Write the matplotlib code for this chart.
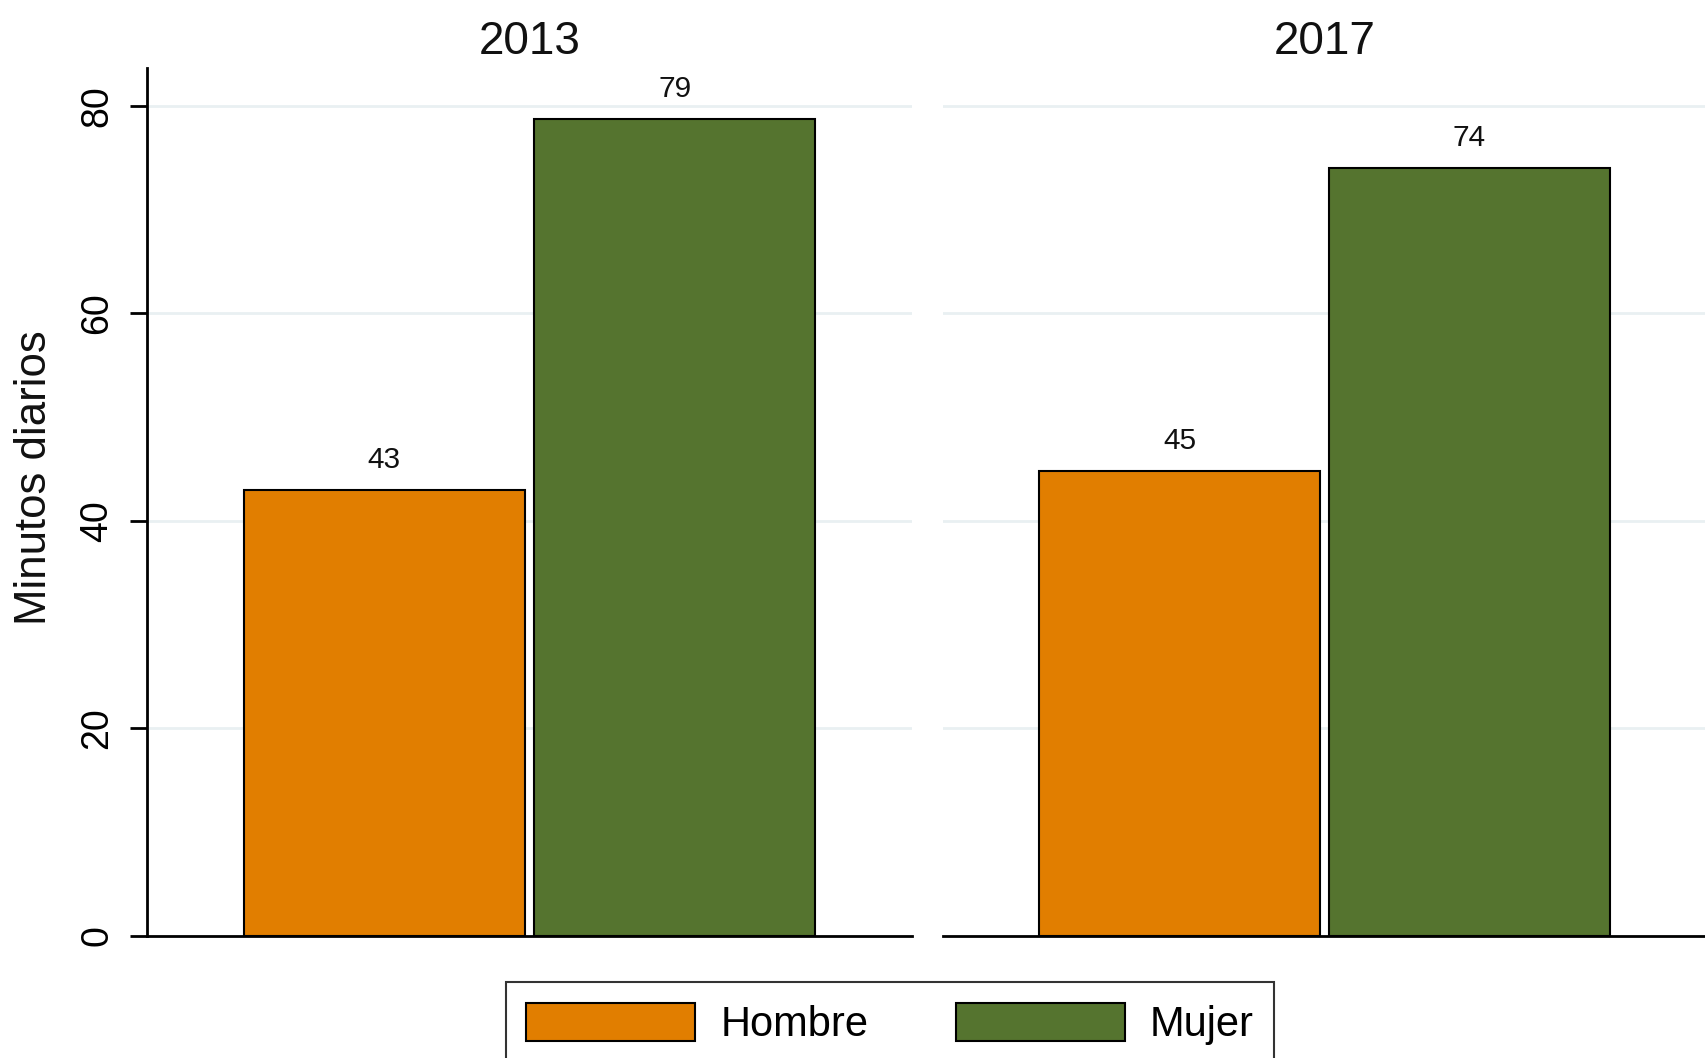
import matplotlib
matplotlib.use('Agg')
import matplotlib.pyplot as plt
from matplotlib.patches import Patch

# ── Data ────────────────────────────────────────────────────────────────────────
years  = ['2013', '2017']
sexes  = ['Hombre', 'Mujer']
hombre = [43.0, 44.8]
mujer  = [78.7, 74.0]
yticks = [0, 20, 40, 60, 80]

COLORS = {'Hombre': '#e17e00', 'Mujer': '#55742f'}
GRID_C = '#e9f0f2'

plt.rcParams['font.family'] = ['Liberation Sans', 'DejaVu Sans']

W, H = 1706, 1058
fig = plt.figure(figsize=(W / 100, H / 100), dpi=100)

bottom = 1 - 936 / H
height = (936 - 67.5) / H
ax1 = fig.add_axes([147 / W, bottom, 765 / W, height])
ax2 = fig.add_axes([943 / W, bottom, 763 / W, height])

bar_w = 0.966
for i, (ax, year) in enumerate(zip([ax1, ax2], years)):
    vals = [hombre[i], mujer[i]]
    for j, (sex, v) in enumerate(zip(sexes, vals)):
        ax.bar(j, v, width=bar_w, color=COLORS[sex], edgecolor='black',
               linewidth=1.5, zorder=3)
        ax.annotate(f'{v:.0f}', (j, v), xytext=(0, 16), textcoords='offset points',
                    ha='center', va='baseline', fontsize=21.5, color='#111111')

    ax.set_xlim(-0.815, 1.815)
    ax.set_ylim(0, 83.7)
    ax.set_xticks([])
    ax.set_yticks(yticks)
    ax.set_axisbelow(True)
    ax.yaxis.grid(True, color=GRID_C, linewidth=2)
    for s in ['top', 'right']:
        ax.spines[s].set_visible(False)
    ax.spines['bottom'].set_linewidth(2)
    ax.spines['left'].set_linewidth(2)
    ax.set_title(year, fontsize=33, pad=10, color='#111111')

    if i == 0:
        ax.tick_params(axis='y', length=12, width=2, pad=11, labelsize=27,
                       labelrotation=90)
        for lab in ax.get_yticklabels():
            lab.set_va('center')
    else:
        ax.spines['left'].set_visible(False)
        ax.tick_params(axis='y', length=0, labelleft=False)

fig.text(35 / W, 1 - 478 / H, 'Minutos diarios', rotation=90, ha='center',
         va='center', fontsize=31.5, color='#111111')

handles = [Patch(facecolor=COLORS[s], edgecolor='black', linewidth=1.5) for s in sexes]
leg = fig.legend(handles, sexes, loc='upper center',
                 bbox_to_anchor=(890 / W, 1 - 982 / H), ncol=2, frameon=True,
                 fancybox=False, edgecolor='black', fontsize=30,
                 handlelength=4.05, handleheight=1.05, columnspacing=2.1,
                 handletextpad=0.6, borderpad=0.5, borderaxespad=0)
leg.get_frame().set_linewidth(1.5)

fig.savefig('out.png', dpi=100)
